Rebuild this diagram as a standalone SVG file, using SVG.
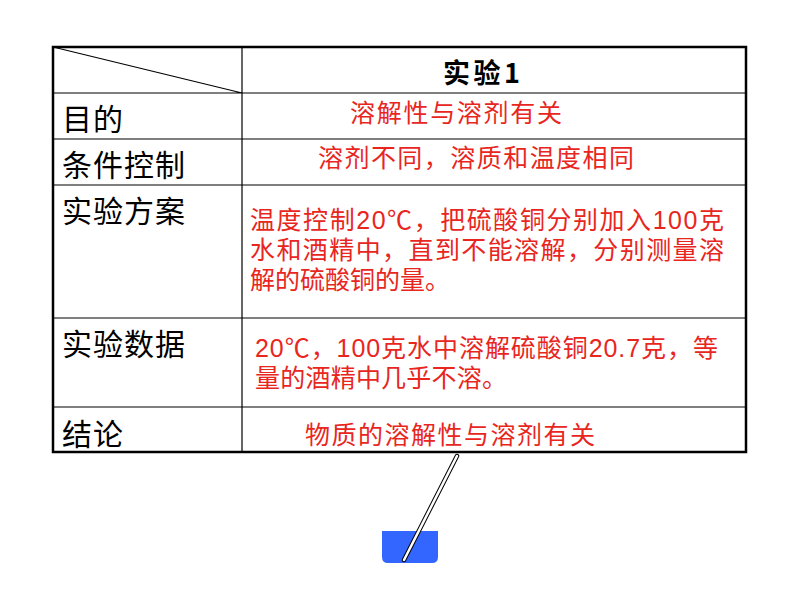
<svg xmlns="http://www.w3.org/2000/svg" width="794" height="596" viewBox="0 0 794 596">
<style>
.l{font-family:"Noto Sans CJK SC","Liberation Sans",sans-serif;font-size:30px;fill:#000}
.r{font-family:"Liberation Sans","Noto Sans CJK SC",sans-serif;font-size:25px;fill:#e8261e}
.g{stroke:#000;stroke-width:1.2;fill:none}
</style>
<rect width="794" height="596" fill="#fff"/>
<g id="table">
<rect x="53" y="47" width="693" height="405" fill="none" stroke="#000" stroke-width="2.5"/>
<path class="g" d="M242 47V452M53 93H746M53 139H746M53 185H746M53 318H746M53 407H746M53 47L242 93"/>
</g>
<g id="header"><text x="443" y="83" class="l" style="font-size:27px;font-weight:bold" textLength="77">实验1</text></g>
<g id="labels">
<text x="62" y="130" class="l" textLength="61">目的</text>
<text x="62" y="176" class="l" textLength="123">条件控制</text>
<text x="62" y="222" class="l" textLength="123">实验方案</text>
<text x="62" y="355" class="l" textLength="123">实验数据</text>
<text x="62" y="445" class="l" textLength="61">结论</text>
</g>
<g id="cells">
<text x="350" y="122" class="r" textLength="212">溶解性与溶剂有关</text>
<text x="318" y="167" class="r" textLength="316">溶剂不同，溶质和温度相同</text>
<text x="250" y="229" class="r" textLength="474">温度控制20℃，把硫酸铜分别加入100克</text>
<text x="250" y="259" class="r" textLength="474">水和酒精中，直到不能溶解，分别测量溶</text>
<text x="250" y="289" class="r" textLength="200">解的硫酸铜的量。</text>
<text x="255" y="357" class="r" textLength="463">20℃，100克水中溶解硫酸铜20.7克，等</text>
<text x="255" y="387" class="r" textLength="252">量的酒精中几乎不溶。</text>
<text x="305" y="444" class="r" textLength="290">物质的溶解性与溶剂有关</text>
</g>
<g id="beaker">
<path d="M382 531H438V557Q438 563 432 563H388Q382 563 382 557Z" fill="#3366ff"/>
<line x1="457" y1="456" x2="404" y2="560" stroke="#000" stroke-width="4.5" stroke-linecap="round"/>
<line x1="457" y1="456" x2="404" y2="560" stroke="#fff" stroke-width="2.5" stroke-linecap="round"/>
</g>
</svg>
